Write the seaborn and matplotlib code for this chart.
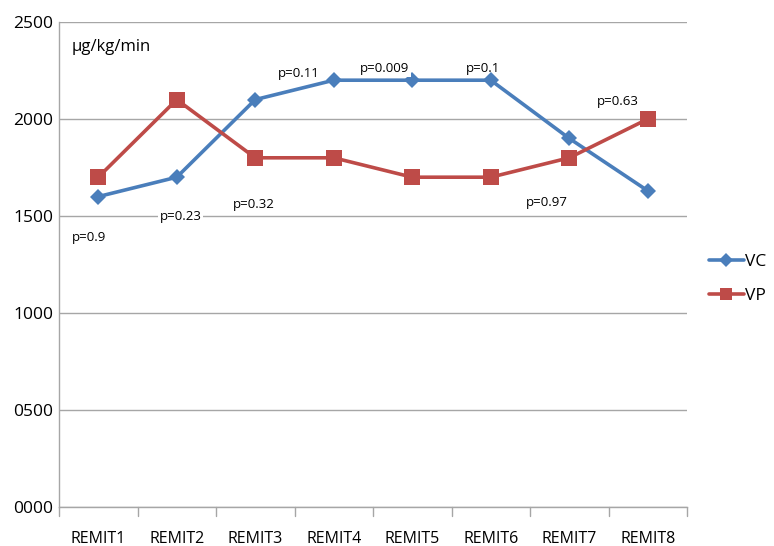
import matplotlib
matplotlib.use("Agg")
import matplotlib.pyplot as plt
from matplotlib.lines import Line2D
import seaborn as sns
import pandas as pd

categories = ["REMIT1", "REMIT2", "REMIT3", "REMIT4", "REMIT5", "REMIT6", "REMIT7", "REMIT8"]
vc_values = [1600, 1700, 2100, 2200, 2200, 2200, 1900, 1630]
vp_values = [1700, 2100, 1800, 1800, 1700, 1700, 1800, 2000]
p_labels = ["p=0.9", "p=0.23", "p=0.32", "p=0.11", "p=0.009", "p=0.1", "p=0.97", "p=0.63"]
p_label_y = [1390, 1497, 1560, 2237, 2258, 2258, 1570, 2090]
p_label_dx = [-0.12, 0.05, -0.02, -0.45, -0.35, -0.1, -0.28, -0.38]
y_ticks = [0, 500, 1000, 1500, 2000, 2500]
y_tick_labels = ["0000", "0500", "1000", "1500", "2000", "2500"]

sns.set_theme(style="white")
plt.rcParams["font.family"] = ["Open Sans", "DejaVu Sans"]
plt.rcParams["text.color"] = "black"
plt.rcParams["xtick.color"] = "black"
plt.rcParams["ytick.color"] = "black"

df = pd.DataFrame({
    "idx": list(range(len(categories))) * 2,
    "value": vc_values + vp_values,
    "series": ["VC"] * len(categories) + ["VP"] * len(categories),
})

fig = plt.figure(figsize=(7.74, 5.46), dpi=100)
ax = fig.add_axes([59 / 774, 1 - 507 / 546, (687 - 59) / 774, (507 - 22) / 546])

palette = {"VC": "#4a7ebb", "VP": "#be4b48"}
sns.lineplot(data=df, x="idx", y="value", hue="series", style="series",
             markers={"VC": "D", "VP": "s"}, dashes=False, palette=palette,
             linewidth=2.6, markersize=9, markeredgewidth=0, ax=ax, legend=False)
# diamonds slightly smaller than squares
for line, ms in zip(ax.lines, [8, 11]):
    line.set_markersize(ms)

ax.set_xlim(-0.5, len(categories) - 0.5)
ax.set_ylim(0, 2500)
ax.set_yticks(y_ticks)
ax.set_yticklabels(y_tick_labels, fontsize=12.5)
ax.set_xticks(range(len(categories)))
ax.set_xticklabels(categories, fontsize=11.5)
ax.tick_params(axis="x", length=0, pad=17)
ax.tick_params(axis="y", length=0, pad=4)
ax.set_xlabel("")
ax.set_ylabel("")

# gridlines and category dividers
ax.yaxis.grid(True, color="#a6a6a6", linewidth=1)
ax.set_axisbelow(True)
for b in [i - 0.5 for i in range(len(categories) + 1)]:
    ax.plot([b, b], [0, -0.018 * 2500], color="#a6a6a6", linewidth=1, clip_on=False)
for side in ["top", "right"]:
    ax.spines[side].set_visible(False)
for side in ["left", "bottom"]:
    ax.spines[side].set_color("#a6a6a6")
    ax.spines[side].set_linewidth(1)

ax.text(0.02, 0.948, "\u00b5g/kg/min", transform=ax.transAxes, fontsize=12,
        ha="left", va="center")

for i, (lab, yv, dx) in enumerate(zip(p_labels, p_label_y, p_label_dx)):
    bg = dict(facecolor="white", edgecolor="none", pad=1) if lab in ("p=0.23", "p=0.009") else None
    ax.text(i + dx, yv, lab, fontsize=9.5, ha="center", va="center", bbox=bg, zorder=5)

# legend outside on the right
handles = [Line2D([], [], color=palette["VC"], marker="D", markersize=7, linewidth=2.6, markeredgewidth=0),
           Line2D([], [], color=palette["VP"], marker="s", markersize=9, linewidth=2.6, markeredgewidth=0)]
fig.legend(handles, ["VC", "VP"], loc="center left", bbox_to_anchor=(709 / 774, 1 - 279 / 546),
           frameon=False, fontsize=12.5, handlelength=2.0, handletextpad=0.1, labelspacing=1.0,
           borderaxespad=0, borderpad=0)

fig.savefig("out.png", dpi=100, facecolor="white")
